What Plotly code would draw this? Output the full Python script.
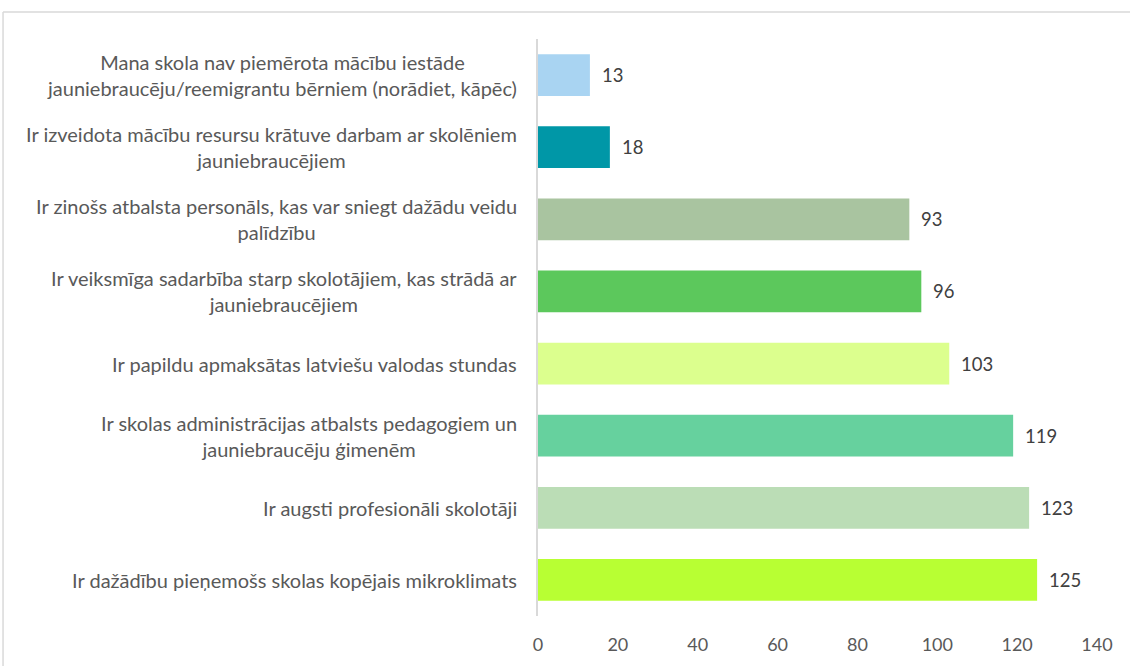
import plotly.graph_objects as go

categories = [
    "Mana skola nav piemērota mācību iestāde<br>jauniebraucēju/reemigrantu bērniem (norādiet, kāpēc)",
    "Ir izveidota mācību resursu krātuve darbam ar skolēniem<br>jauniebraucējiem",
    "Ir zinošs atbalsta personāls, kas var sniegt dažādu veidu<br>palīdzību",
    "Ir veiksmīga sadarbība starp skolotājiem, kas strādā ar<br>jauniebraucējiem",
    "Ir papildu apmaksātas latviešu valodas stundas",
    "Ir skolas administrācijas atbalsts pedagogiem un<br>jauniebraucēju ģimenēm",
    "Ir augsti profesionāli skolotāji",
    "Ir dažādību pieņemošs skolas kopējais mikroklimats",
]
values = [13, 18, 93, 96, 103, 119, 123, 125]
colors = ["#A9D4F2", "#0097A7", "#A9C4A0", "#5CC85C", "#DCFF8E", "#66D19E", "#BBDDB6", "#B8FF33"]
x_ticks = [0, 20, 40, 60, 80, 100, 120, 140]

FONT = "Lato"
fig = go.Figure()
fig.add_trace(go.Bar(
    y=categories, x=values, orientation="h",
    marker=dict(color=colors, line=dict(width=0)),
    hoverinfo="x+y",
))

annotations = []
for c, v in zip(categories, values):
    annotations.append(dict(x=v, y=c, xref="x", yref="y", text=str(v), showarrow=False,
                            xanchor="left", xshift=10,
                            font=dict(family=FONT, size=18.5, color="#404040")))
    annotations.append(dict(x=0, y=c, xref="x", yref="y", text=c, showarrow=False,
                            xanchor="right", align="center", xshift=-19,
                            font=dict(family=FONT, size=20, color="#595959")))

fig.update_layout(
    width=1130, height=666,
    margin=dict(l=538, r=33, t=39, b=50),
    plot_bgcolor="white", paper_bgcolor="white",
    showlegend=False,
    bargap=0.42,
    annotations=annotations,
    xaxis=dict(range=[0, 140], tickvals=x_ticks, showgrid=False, zeroline=False,
               showline=False, ticks="", ticklabelstandoff=16,
               tickfont=dict(family=FONT, size=18, color="#595959")),
    yaxis=dict(autorange="reversed", showticklabels=False, showgrid=False, zeroline=False,
               showline=True, linecolor="#D9D9D9", linewidth=1.5, ticks=""),
    shapes=[
        dict(type="line", xref="paper", yref="paper", x0=-0.957, x1=1.2, y0=1.0468, y1=1.0468,
             line=dict(color="#D9D9D9", width=1.5)),
        dict(type="line", xref="paper", yref="paper", x0=-0.957, x1=-0.957, y0=1.0468, y1=-0.2,
             line=dict(color="#D9D9D9", width=1.5)),
    ],
)
fig.write_html("out.html", config={"displayModeBar": False},
               post_script="document.body.style.margin='0';")
